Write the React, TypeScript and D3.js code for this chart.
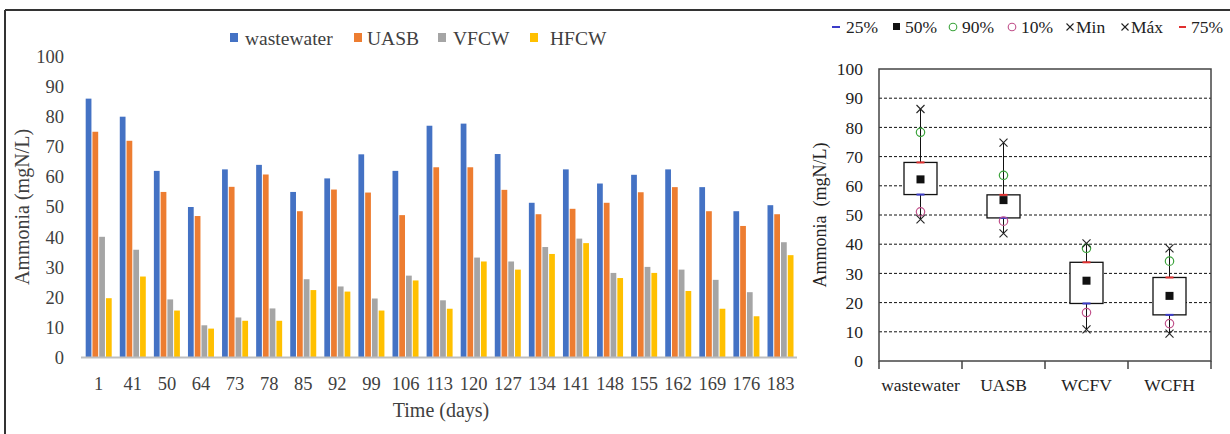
import * as d3 from "d3";
import React from "react";

// bar chart data
const days = ["1", "41", "50", "64", "73", "78", "85", "92", "99", "106", "113", "120", "127", "134", "141", "148", "155", "162", "169", "176", "183"];
const wastewater = [86, 80, 62, 50, 62.5, 64, 55, 59.5, 67.5, 62, 77, 77.7, 67.6, 51.4, 62.5, 57.8, 60.7, 62.5, 56.6, 48.6, 50.6];
const uasb = [75, 72, 55, 47, 56.7, 60.8, 48.6, 55.8, 54.8, 47.3, 63.2, 63.2, 55.7, 47.6, 49.4, 51.4, 54.9, 56.6, 48.6, 43.7, 47.6];
const vfcw = [40.1, 35.8, 19.3, 10.7, 13.3, 16.3, 26, 23.6, 19.6, 27.2, 19, 33.2, 31.9, 36.7, 39.5, 28.1, 30.1, 29.2, 25.8, 21.7, 38.3];
const hfcw = [19.7, 26.9, 15.6, 9.6, 12.2, 12.2, 22.4, 21.9, 15.6, 25.6, 16.2, 31.9, 29.2, 34.4, 38, 26.4, 28.1, 22.1, 16.2, 13.7, 34];
const seriesNames = ["wastewater", "UASB", "VFCW", "HFCW"];
const seriesColors = ["#4472C4", "#ED7D31", "#A5A5A5", "#FFC000"];
const yTicks = [0, 10, 20, 30, 40, 50, 60, 70, 80, 90, 100];

// box plot data
const boxGroups = ["wastewater", "UASB", "WCFV", "WCFH"];
const p10 = [51.1, 47.9, 16.6, 12.8];
const p25 = [57, 49, 19.7, 15.8];
const p50 = [62.2, 55.1, 27.5, 22.3];
const p75 = [68, 56.9, 33.8, 28.6];
const p90 = [78.3, 63.6, 38.6, 34.2];
const minV = [48.5, 43.7, 10.8, 9.4];
const maxV = [86.3, 74.8, 40.3, 38.6];

const serif = "'Liberation Serif', 'DejaVu Serif', serif";

function Cross({ x, y, s }: { x: number; y: number; s: number }) {
  return (
    <g stroke="#222" strokeWidth={1.1}>
      <line x1={x - s} y1={y - s} x2={x + s} y2={y + s} />
      <line x1={x - s} y1={y + s} x2={x + s} y2={y - s} />
    </g>
  );
}

export default function App() {
  const W = 1230, H = 434;
  const series = [wastewater, uasb, vfcw, hfcw];

  // left: grouped bars
  const x = d3.scaleBand<string>().domain(days).range([81.6, 797.6]).paddingInner(0.237).paddingOuter(0.12);
  const xs = d3.scaleBand<string>().domain(seriesNames).range([0, x.bandwidth()]).paddingInner(0.15);
  const y = d3.scaleLinear().domain([0, 100]).range([357.5, 56.5]);

  // right: box plot
  const xb = d3.scaleBand<string>().domain(boxGroups).range([879, 1211]);
  const y2 = d3.scaleLinear().domain([0, 100]).range([361, 69]);
  const boxW = 33;

  const legendLeft = [
    { sx: 230, tx: 245 },
    { sx: 354, tx: 367 },
    { sx: 438, tx: 453 },
    { sx: 530, tx: 550 },
  ];

  return (
    <svg width={W} height={H} style={{ position: "absolute", left: 0, top: 0, background: "#fff" }} fontFamily={serif}>
      {/* outer frame */}
      <line x1={5} y1={10} x2={W} y2={10} stroke="#333" strokeWidth={2} />
      <line x1={5} y1={10} x2={5} y2={H} stroke="#333" strokeWidth={2} />

      {/* ---- left chart ---- */}
      {legendLeft.map((p, i) => (
        <g key={seriesNames[i]}>
          <rect x={p.sx} y={33} width={8} height={9} fill={seriesColors[i]} />
          <text x={p.tx} y={45} fontSize={19.5} fill="#404040">{seriesNames[i]}</text>
        </g>
      ))}

      {yTicks.map((t) => (
        <text key={t} x={64} y={y(t)} dy="0.35em" textAnchor="end" fontSize={18.5} fill="#404040">{t}</text>
      ))}

      {days.map((d, i) => (
        <g key={d}>
          {series.map((s, j) => (
            <rect
              key={j}
              x={(x(d) as number) + (xs(seriesNames[j]) as number)}
              y={y(s[i])}
              width={xs.bandwidth()}
              height={y(0) - y(s[i])}
              fill={seriesColors[j]}
            />
          ))}
          <text x={(x(d) as number) + x.bandwidth() / 2} y={390} textAnchor="middle" fontSize={18.5} fill="#404040">{d}</text>
        </g>
      ))}
      <line x1={81} x2={797} y1={y(0)} y2={y(0)} stroke="#BFBFBF" strokeWidth={2} />

      <text x={441} y={417} textAnchor="middle" fontSize={20} fill="#404040">Time (days)</text>
      <text transform={`translate(29,${y(50)}) rotate(-90)`} textAnchor="middle" fontSize={20} fill="#404040">Ammonia (mgN/L)</text>

      {/* ---- right chart ---- */}
      {/* legend */}
      <g fontSize={17.5} fill="#222">
        <line x1={832} x2={840} y1={27} y2={27} stroke="#3C3CC8" strokeWidth={2} />
        <text x={846} y={33}>25%</text>
        <rect x={893} y={23} width={7} height={7} fill="#111" />
        <text x={905} y={33}>50%</text>
        <circle cx={953} cy={27} r={3.8} fill="none" stroke="#3BA33B" strokeWidth={1.1} />
        <text x={962} y={33}>90%</text>
        <circle cx={1012} cy={27} r={3.8} fill="none" stroke="#C0508A" strokeWidth={1.1} />
        <text x={1021} y={33}>10%</text>
        <Cross x={1070} y={27} s={3.5} />
        <text x={1076} y={33}>Min</text>
        <Cross x={1125} y={27} s={3.5} />
        <text x={1131} y={33}>Máx</text>
        <line x1={1179} x2={1186} y1={27} y2={27} stroke="#E03030" strokeWidth={2} />
        <text x={1191} y={33}>75%</text>
      </g>

      {/* grid */}
      {yTicks.filter((t) => t > 0 && t < 100).map((t) => (
        <line key={t} x1={879} x2={1211} y1={y2(t)} y2={y2(t)} stroke="#111" strokeWidth={1} strokeDasharray="3,2" />
      ))}
      {/* frame */}
      <rect x={879} y={y2(100)} width={1211 - 879} height={y2(0) - y2(100)} fill="none" stroke="#444" strokeWidth={1.5} />
      {[...boxGroups.map((g) => xb(g) as number), 1211].map((v, i) => (
        <line key={i} x1={v} x2={v} y1={y2(0)} y2={y2(0) + 8} stroke="#444" strokeWidth={1.5} />
      ))}
      {yTicks.map((t) => (
        <text key={t} x={863} y={y2(t)} dy="0.35em" textAnchor="end" fontSize={17.5} fill="#222">{t}</text>
      ))}
      {boxGroups.map((g) => (
        <text key={g} x={(xb(g) as number) + xb.bandwidth() / 2} y={391} textAnchor="middle" fontSize={17.5} fill="#222">{g}</text>
      ))}
      <text transform={`translate(826,${y2(50)}) rotate(-90)`} textAnchor="middle" fontSize={18} fill="#222">{"Ammonia\u00a0\u00a0(mgN/L)"}</text>

      {/* boxes */}
      {boxGroups.map((g, i) => {
        const cx = (xb(g) as number) + xb.bandwidth() / 2;
        return (
          <g key={g}>
            <line x1={cx} x2={cx} y1={y2(maxV[i])} y2={y2(p75[i])} stroke="#111" strokeWidth={1} />
            <line x1={cx} x2={cx} y1={y2(p25[i])} y2={y2(minV[i])} stroke="#111" strokeWidth={1} />
            <rect x={cx - boxW / 2} y={y2(p75[i])} width={boxW} height={y2(p25[i]) - y2(p75[i])} fill="#fff" stroke="#111" strokeWidth={1.3} />
            <line x1={cx - 4} x2={cx + 4} y1={y2(p25[i])} y2={y2(p25[i])} stroke="#3C3CC8" strokeWidth={2} />
            <line x1={cx - 4} x2={cx + 4} y1={y2(p75[i])} y2={y2(p75[i])} stroke="#E03030" strokeWidth={2} />
            <rect x={cx - 4} y={y2(p50[i]) - 4} width={8} height={8} fill="#111" />
            <circle cx={cx} cy={y2(p90[i])} r={4.2} fill="none" stroke="#3BA33B" strokeWidth={1.2} />
            <circle cx={cx} cy={y2(p10[i])} r={4.2} fill="none" stroke="#C0508A" strokeWidth={1.2} />
            <Cross x={cx} y={y2(maxV[i])} s={4} />
            <Cross x={cx} y={y2(minV[i])} s={4} />
          </g>
        );
      })}
    </svg>
  );
}
